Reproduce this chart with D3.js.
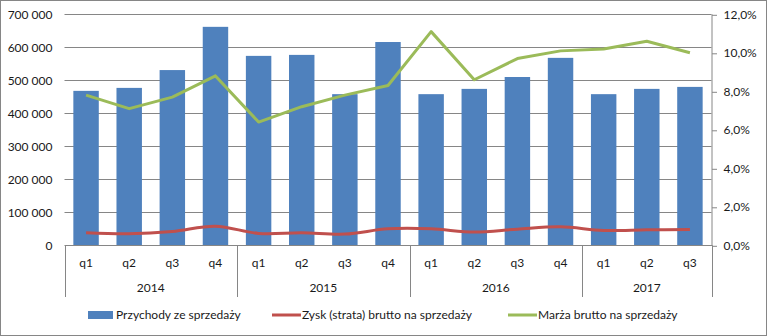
<!DOCTYPE html>
<html>
<head>
<meta charset="utf-8">
<script src="https://cdn.jsdelivr.net/npm/d3@7"></script>
<style>
  html, body { margin: 0; padding: 0; background: #fff; }
  svg { display: block; font-family: Lato, "Open Sans", sans-serif; }
</style>
</head>
<body>
<svg id="chart" width="767" height="336"></svg>
<script>
// Quarterly sales, gross profit and gross margin
const years = ["2014", "2015", "2016", "2017"];
const yearStart = [0, 4, 8, 12];
const yearEnd = [4, 8, 12, 15];
const quarters = ["q1", "q2", "q3", "q4", "q1", "q2", "q3", "q4", "q1", "q2", "q3", "q4", "q1", "q2", "q3"];
const revenue = [468000, 477000, 531000, 662000, 574000, 577000, 458000, 616000, 458000, 474000, 510000, 568000, 458000, 474000, 480000];
const profit = [38000, 35000, 42000, 58000, 36000, 38000, 34000, 50000, 50000, 40000, 49000, 56000, 45000, 47000, 48000];
const margin = [7.8, 7.1, 7.7, 8.8, 6.4, 7.2, 7.8, 8.3, 11.1, 8.6, 9.7, 10.1, 10.2, 10.6, 10.0];
const leftTicks = [0, 100000, 200000, 300000, 400000, 500000, 600000, 700000];
const rightTicks = [0, 2, 4, 6, 8, 10, 12];
const seriesNames = ["Przychody ze sprzedaży", "Zysk (strata) brutto na sprzedaży", "Marża brutto na sprzedaży"];
const colors = { bar: "#4F81BD", profit: "#C0504D", margin: "#9BBB59", grid: "#868686", text: "#1a1a1a" };

const svg = d3.select("#chart");
const W = 767, H = 336;
const plot = { left: 64.5, right: 711.5, top: 14.3, bottom: 245.3 };

// chart frame
svg.append("rect").attr("x", 0.5).attr("y", 0.5).attr("width", W - 1).attr("height", H - 1)
  .attr("fill", "#fff").attr("stroke", colors.grid).attr("stroke-width", 1);

const idx = d3.range(quarters.length);
const x = d3.scaleBand().domain(idx).range([plot.left, plot.right])
  .paddingInner(0.41).paddingOuter(0.205);
const xc = i => x(i) + x.bandwidth() / 2;
const edge = k => plot.left + x.step() * k;
const y = d3.scaleLinear().domain([0, 700000]).range([plot.bottom, plot.top]);
const y2 = d3.scaleLinear().domain([0, 12]).range([plot.bottom, plot.top]);

const fmtPLN = v => d3.format(",")(v).replace(/,/g, " ");
const fmtPct = v => d3.format(".1f")(v).replace(".", ",") + "%";

// horizontal gridlines
svg.append("g").selectAll("line").data(leftTicks.filter(t => t > 0)).join("line")
  .attr("x1", plot.left).attr("x2", plot.right)
  .attr("y1", d => Math.round(y(d)) + 0.5).attr("y2", d => Math.round(y(d)) + 0.5)
  .attr("stroke", colors.grid).attr("stroke-width", 1);

// left axis labels
const leftAxis = d3.axisLeft(y).tickValues(leftTicks).tickFormat(fmtPLN).tickSize(0).tickPadding(0);
const gl = svg.append("g").attr("transform", `translate(${plot.left - 12},0)`).call(leftAxis);
gl.select(".domain").remove();
gl.selectAll("text").attr("font-size", 12).attr("fill", colors.text).attr("font-family", "Lato, sans-serif")
  .style("white-space", "pre");

// bars
svg.append("g").selectAll("rect").data(idx).join("rect")
  .attr("x", i => x(i)).attr("width", x.bandwidth())
  .attr("y", i => y(revenue[i])).attr("height", i => plot.bottom - y(revenue[i]))
  .attr("fill", colors.bar);

// right axis
const rightAxis = d3.axisRight(y2).tickValues(rightTicks).tickFormat(fmtPct).tickSize(5).tickPadding(7);
const gr = svg.append("g").attr("transform", `translate(${plot.right},0)`).call(rightAxis);
gr.select(".domain").attr("stroke", colors.grid).attr("d", `M0.5,${plot.top}V${plot.bottom}`);
gr.selectAll(".tick line").attr("stroke", colors.grid).attr("transform", "translate(0.5,0.5)");
gr.selectAll("text").attr("font-size", 12).attr("fill", colors.text).attr("font-family", "Lato, sans-serif");

// category axis baseline
svg.append("line").attr("x1", plot.left).attr("x2", plot.right + 1)
  .attr("y1", Math.round(plot.bottom) + 0.5).attr("y2", Math.round(plot.bottom) + 0.5)
  .attr("stroke", colors.grid);

// year separators
const sepIdx = yearStart.concat([yearEnd[yearEnd.length - 1]]);
svg.append("g").selectAll("line").data(sepIdx).join("line")
  .attr("x1", d => Math.round(edge(d)) + 0.5)
  .attr("x2", d => Math.round(edge(d)) + 0.5)
  .attr("y1", plot.bottom).attr("y2", 297)
  .attr("stroke", colors.grid);

// quarter labels
svg.append("g").selectAll("text").data(idx).join("text")
  .attr("x", i => xc(i)).attr("y", 263).attr("dy", "0.35em")
  .attr("text-anchor", "middle").attr("font-size", 12).attr("fill", colors.text)
  .text(i => quarters[i]);

// year labels, centred under each year's group of quarters
svg.append("g").attr("class", "years").selectAll("text")
  .data(d3.range(years.length)).join("text")
  .attr("x", k => (edge(yearStart[k]) + edge(yearEnd[k])) / 2)
  .attr("y", 288).attr("dy", "0.35em")
  .attr("text-anchor", "middle").attr("font-size", 12).attr("fill", colors.text)
  .text(k => years[k]);

// gross profit (smoothed line)
svg.append("path").datum(idx)
  .attr("d", d3.line().x(i => xc(i)).y(i => y(profit[i])).curve(d3.curveCatmullRom.alpha(0.5)))
  .attr("fill", "none").attr("stroke", colors.profit).attr("stroke-width", 3).attr("stroke-linejoin", "round");

// gross margin line
svg.append("path").datum(idx)
  .attr("d", d3.line().x(i => xc(i)).y(i => y2(margin[i])))
  .attr("fill", "none").attr("stroke", colors.margin).attr("stroke-width", 3).attr("stroke-linejoin", "round");

// legend
const lg = svg.append("g").attr("font-size", 12).attr("fill", colors.text);
const ly = 315;
lg.append("rect").attr("x", 88).attr("y", ly - 4).attr("width", 25).attr("height", 8).attr("fill", colors.bar);
lg.append("text").attr("x", 116).attr("y", ly).attr("dy", "0.35em").text(seriesNames[0]);
lg.append("line").attr("x1", 272).attr("x2", 301).attr("y1", ly).attr("y2", ly)
  .attr("stroke", colors.profit).attr("stroke-width", 3);
lg.append("text").attr("x", 302).attr("y", ly).attr("dy", "0.35em").text(seriesNames[1]);
lg.append("line").attr("x1", 508).attr("x2", 537).attr("y1", ly).attr("y2", ly)
  .attr("stroke", colors.margin).attr("stroke-width", 3);
lg.append("text").attr("x", 538).attr("y", ly).attr("dy", "0.35em").text(seriesNames[2]);
</script>
</body>
</html>
